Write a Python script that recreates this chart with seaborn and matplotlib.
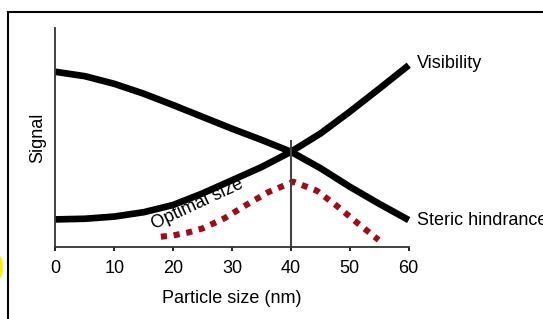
import pandas as pd
import seaborn as sns
import matplotlib.pyplot as plt
from matplotlib.patches import Rectangle, Ellipse

# valores
tamanho = [0, 5, 10, 15, 20, 25, 30, 35, 40, 45, 50, 55, 60]
visibilidade = [12.6, 12.9, 13.9, 15.9, 19.2, 24.5, 30.5, 36.5, 43.5, 51.8, 61.8, 72.3, 83.0]
impedimento = [80.0, 78.0, 74.5, 70.0, 64.8, 59.4, 54.0, 48.9, 43.5, 36.0, 27.5, 19.7, 12.3]

tamanho_otimo = [17.9, 20, 22.5, 25, 28.7, 32.4, 36.1, 40.4, 44.4, 48.1, 51.5, 54.9]
sinal_otimo = [4.7, 5.3, 6.6, 8.5, 13.1, 19.2, 25.0, 29.8, 25.7, 18.1, 10.5, 3.2]

ticks_x = [0, 10, 20, 30, 40, 50, 60]

sns.set_style('ticks')
plt.rcParams['font.family'] = ['Liberation Sans', 'DejaVu Sans']
plt.rcParams['text.color'] = 'black'
plt.rcParams['axes.labelcolor'] = 'black'
plt.rcParams['xtick.color'] = 'black'

fig = plt.figure(figsize=(5.43, 3.19), dpi=100)
ax = fig.add_axes([0.1022, 0.2257, 0.6505, 0.6865])

df = pd.DataFrame({'x': tamanho, 'Visibility': visibilidade, 'Steric hindrance': impedimento})
for col in ['Visibility', 'Steric hindrance']:
    sns.lineplot(data=df, x='x', y=col, ax=ax, color='black', lw=4.8,
                 clip_on=False, solid_joinstyle='round', solid_capstyle='butt')

df2 = pd.DataFrame({'x': tamanho_otimo, 'y': sinal_otimo})
sns.lineplot(data=df2, x='x', y='y', ax=ax, color='#9e0b1a', lw=4.4, sort=False,
             clip_on=False, linestyle=(0, (1.0, 1.1)), dash_capstyle='butt')

ax.vlines(40, 0, 48.9, color='#444444', lw=1.5)

ax.text(61.4, 84, 'Visibility', fontsize=13, va='center', ha='left')
ax.text(61.4, 12.3, 'Steric hindrance', fontsize=13, va='center', ha='left', clip_on=False)
ax.text(17, 6.3, 'Optimal size', fontsize=13, rotation=25, ha='left', va='bottom',
        rotation_mode='anchor')

ax.set_xlim(0, 60)
ax.set_ylim(0, 100)
ax.set_xticks(ticks_x)
ax.set_yticks([])
ax.tick_params(axis='x', labelsize=13, length=3, width=1.2, pad=6)
ax.set_xlabel('Particle size (nm)', fontsize=13, labelpad=10)
ax.set_ylabel('Signal', fontsize=13, labelpad=7)
sns.despine(ax=ax)
ax.spines['left'].set_linewidth(1.3)
ax.spines['bottom'].set_linewidth(1.3)
ax.spines['left'].set_color('#333333')
ax.spines['bottom'].set_color('#333333')

# moldura da figura
fig.patches.append(Rectangle((0.014, -0.05), 1.1, 1.0133, transform=fig.transFigure,
                             fill=False, edgecolor='black', lw=1.5))
fig.patches.append(Ellipse((0.0, 0.163), 0.008, 0.062, transform=fig.transFigure,
                           color='#ffee00'))

fig.savefig('out.png', dpi=100)
